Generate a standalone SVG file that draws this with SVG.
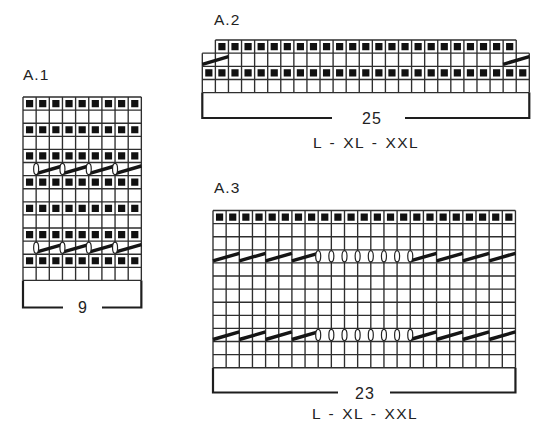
<svg xmlns="http://www.w3.org/2000/svg" width="550" height="444" viewBox="0 0 550 444">
<style>
.grid{fill:none;stroke:#2e2e2e;stroke-width:1.35}
.br{fill:none;stroke:#1e1e1e;stroke-width:2.2}
.dA{fill:none;stroke:#111;stroke-width:7.2;stroke-dasharray:7.2 5.95}
.dB{fill:none;stroke:#111;stroke-width:7.2;stroke-dasharray:7.2 5.88}
.cab{stroke:#151515;stroke-width:3.4;fill:none}
.yo{fill:#fff;stroke:#222;stroke-width:1.2}
text{font-family:"Liberation Sans",Arial,sans-serif;fill:#222}
.lbl{font-size:15.5px;letter-spacing:1px}
.num{font-size:16px;text-anchor:middle;letter-spacing:1px}
.sz{font-size:15.5px;text-anchor:middle;letter-spacing:1.4px;word-spacing:1.5px}
</style>
<rect width="550" height="444" fill="#fff"/>

<g id="A1">
<text class="lbl" x="23" y="80">A.1</text>
<path class="dA" d="M25.975 103.55H141 M25.975 129.75H141 M25.975 155.95H141 M25.975 182.15H141 M25.975 208.35H141 M25.975 234.55H141 M25.975 260.75H141"/>
<path class="grid" d="M23 97V280.4 M36.15 97V280.4 M49.3 97V280.4 M62.45 97V280.4 M75.6 97V280.4 M88.75 97V280.4 M101.9 97V280.4 M115.05 97V280.4 M128.2 97V280.4 M141.35 97V280.4
M23 97H141.35 M23 110.1H141.35 M23 123.2H141.35 M23 136.3H141.35 M23 149.4H141.35 M23 162.5H141.35 M23 175.6H141.35 M23 188.7H141.35 M23 201.8H141.35 M23 214.9H141.35 M23 228H141.35 M23 241.1H141.35 M23 254.2H141.35 M23 267.3H141.35 M23 280.4H141.35"/>
<path class="cab" d="M36.15 173.6L62.45 166 M62.45 173.6L88.75 166 M88.75 173.6L115.05 166 M115.05 173.6L141.35 166
M36.15 252.2L62.45 244.6 M62.45 252.2L88.75 244.6 M88.75 252.2L115.05 244.6 M115.05 252.2L141.35 244.6"/>
<ellipse class="yo" cx="36.15" cy="169.05" rx="2.5" ry="5.6"/>
<ellipse class="yo" cx="62.45" cy="169.05" rx="2.5" ry="5.6"/>
<ellipse class="yo" cx="88.75" cy="169.05" rx="2.5" ry="5.6"/>
<ellipse class="yo" cx="115.05" cy="169.05" rx="2.5" ry="5.6"/>
<ellipse class="yo" cx="36.15" cy="247.65" rx="2.5" ry="5.6"/>
<ellipse class="yo" cx="62.45" cy="247.65" rx="2.5" ry="5.6"/>
<ellipse class="yo" cx="88.75" cy="247.65" rx="2.5" ry="5.6"/>
<ellipse class="yo" cx="115.05" cy="247.65" rx="2.5" ry="5.6"/>
<path class="br" d="M23 280.4V307.5H63 M102 307.5H141.35V280.4"/>
<text class="num" x="83" y="313">9</text>
</g>

<g id="A2">
<text class="lbl" x="214" y="25">A.2</text>
<path class="dB" d="M218.32 46.575H516 M205.24 72.875H529"/>
<path class="grid" d="M215.38 40H516.22 M202.3 53.15H529.3 M202.3 66.3H529.3 M202.3 79.45H529.3 M202.3 92.6H529.3
M202.3 53.15V92.6 M529.3 53.15V92.6
M215.38 40V92.6 M228.46 40V92.6 M241.54 40V92.6 M254.62 40V92.6 M267.7 40V92.6 M280.78 40V92.6 M293.86 40V92.6 M306.94 40V92.6 M320.02 40V92.6 M333.1 40V92.6 M346.18 40V92.6 M359.26 40V92.6 M372.34 40V92.6 M385.42 40V92.6 M398.5 40V92.6 M411.58 40V92.6 M424.66 40V92.6 M437.74 40V92.6 M450.82 40V92.6 M463.9 40V92.6 M476.98 40V92.6 M490.06 40V92.6 M503.14 40V92.6 M516.22 40V92.6"/>
<path class="cab" d="M202.3 64.3L228.46 56.65 M503.14 64.3L529.3 56.65"/>
<path class="br" d="M202.3 92.6V118H332 M405 118H529.3V92.6"/>
<text class="num" x="372" y="124">25</text>
<text class="sz" x="366" y="148">L - XL - XXL</text>
</g>

<g id="A3">
<text class="lbl" x="214" y="193">A.3</text>
<path class="dA" d="M215.975 217.05H515"/>
<path class="grid" d="M213 210.5H515.45 M213 223.6H515.45 M213 236.7H515.45 M213 249.8H515.45 M213 262.9H515.45 M213 276H515.45 M213 289.1H515.45 M213 302.2H515.45 M213 315.3H515.45 M213 328.4H515.45 M213 341.5H515.45 M213 354.6H515.45 M213 367.7H515.45
M213 210.5V367.7 M226.15 210.5V367.7 M239.3 210.5V367.7 M252.45 210.5V367.7 M265.6 210.5V367.7 M278.75 210.5V367.7 M291.9 210.5V367.7 M305.05 210.5V367.7 M318.2 210.5V367.7 M331.35 210.5V367.7 M344.5 210.5V367.7 M357.65 210.5V367.7 M370.8 210.5V367.7 M383.95 210.5V367.7 M397.1 210.5V367.7 M410.25 210.5V367.7 M423.4 210.5V367.7 M436.55 210.5V367.7 M449.7 210.5V367.7 M462.85 210.5V367.7 M476 210.5V367.7 M489.15 210.5V367.7 M502.3 210.5V367.7 M515.45 210.5V367.7"/>
<path class="cab" d="M213 260.9L239.3 253.3 M239.3 260.9L265.6 253.3 M265.6 260.9L291.9 253.3 M291.9 260.9L318.2 253.3 M410.25 260.9L436.55 253.3 M436.55 260.9L462.85 253.3 M462.85 260.9L489.15 253.3 M489.15 260.9L515.45 253.3
M213 339.5L239.3 331.9 M239.3 339.5L265.6 331.9 M265.6 339.5L291.9 331.9 M291.9 339.5L318.2 331.9 M410.25 339.5L436.55 331.9 M436.55 339.5L462.85 331.9 M462.85 339.5L489.15 331.9 M489.15 339.5L515.45 331.9"/>
<g>
<ellipse class="yo" cx="318.2" cy="256.35" rx="2.5" ry="5.6"/>
<ellipse class="yo" cx="331.35" cy="256.35" rx="2.5" ry="5.6"/>
<ellipse class="yo" cx="344.5" cy="256.35" rx="2.5" ry="5.6"/>
<ellipse class="yo" cx="357.65" cy="256.35" rx="2.5" ry="5.6"/>
<ellipse class="yo" cx="370.8" cy="256.35" rx="2.5" ry="5.6"/>
<ellipse class="yo" cx="383.95" cy="256.35" rx="2.5" ry="5.6"/>
<ellipse class="yo" cx="397.1" cy="256.35" rx="2.5" ry="5.6"/>
<ellipse class="yo" cx="410.25" cy="256.35" rx="2.5" ry="5.6"/>
<ellipse class="yo" cx="318.2" cy="334.95" rx="2.5" ry="5.6"/>
<ellipse class="yo" cx="331.35" cy="334.95" rx="2.5" ry="5.6"/>
<ellipse class="yo" cx="344.5" cy="334.95" rx="2.5" ry="5.6"/>
<ellipse class="yo" cx="357.65" cy="334.95" rx="2.5" ry="5.6"/>
<ellipse class="yo" cx="370.8" cy="334.95" rx="2.5" ry="5.6"/>
<ellipse class="yo" cx="383.95" cy="334.95" rx="2.5" ry="5.6"/>
<ellipse class="yo" cx="397.1" cy="334.95" rx="2.5" ry="5.6"/>
<ellipse class="yo" cx="410.25" cy="334.95" rx="2.5" ry="5.6"/>
</g>
<path class="br" d="M213 367.7V392.5H338 M390 392.5H515.45V367.7"/>
<text class="num" x="365" y="399">23</text>
<text class="sz" x="365" y="419">L - XL - XXL</text>
</g>
</svg>
